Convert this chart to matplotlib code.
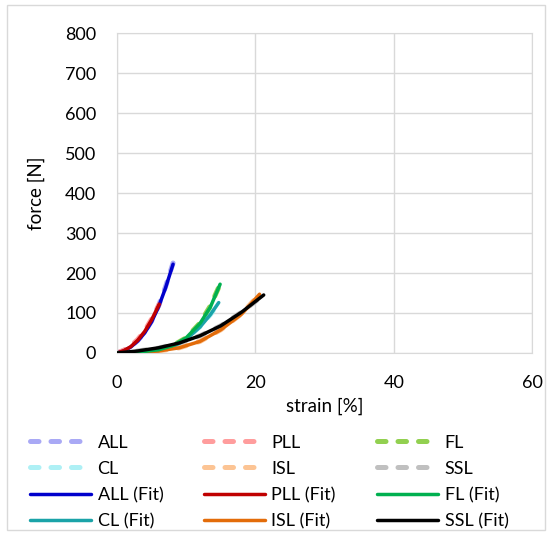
import matplotlib

matplotlib.use("Agg")
import matplotlib.pyplot as plt
from matplotlib.patches import Rectangle

plt.rcParams["font.family"] = ["Lato", "DejaVu Sans"]

# measured curves (strain %, force N)
all_x = [0, 1, 2, 3, 4, 5, 6, 7, 8.1]
all_y = [0, 6, 16, 31, 52, 80, 118, 165, 225]
pll_x = [0, 1, 2, 3, 4, 5, 6.1]
pll_y = [0, 7, 18, 34, 56, 85, 122]
fl_x = [0, 3, 6, 8, 10, 12, 13.5, 14.9]
fl_y = [0, 2, 8, 18, 38, 75, 118, 172]
cl_x = [0, 3, 6, 8, 10, 12, 13.5, 14.7]
cl_y = [0, 1, 6, 15, 35, 66, 96, 126]
isl_x = [0, 3, 6, 9, 12, 15, 18, 20.6]
isl_y = [0, 1, 5, 13, 29, 58, 98, 147]
ssl_x = [0, 3, 6, 9, 12, 15, 18, 21.2]
ssl_y = [0, 5, 12, 25, 43, 68, 102, 145]

# fitted curves
all_fx = [0, 1, 2, 3, 4, 5, 6, 7, 8.1]
all_fy = [0, 5, 15, 30, 50, 78, 115, 162, 222]
pll_fx = [0, 1, 2, 3, 4, 5, 6.1]
pll_fy = [0, 6, 16, 32, 54, 83, 122]
fl_fx = [0, 3, 6, 8, 10, 12, 13.5, 14.9]
fl_fy = [0, 2, 8, 18, 38, 74, 115, 172]
cl_fx = [0, 3, 6, 8, 10, 12, 13.5, 14.7]
cl_fy = [0, 1, 6, 15, 34, 65, 96, 126]
isl_fx = [0, 3, 6, 9, 12, 15, 18, 20.6]
isl_fy = [0, 1, 5, 13, 29, 58, 97, 147]
ssl_fx = [0, 3, 6, 9, 12, 15, 18, 21.2]
ssl_fy = [0, 5, 13, 25, 43, 68, 102, 145]

raw = [
    ("ALL", all_x, all_y, "#a9a9f5"),
    ("CL", cl_x, cl_y, "#aef0f5"),
    ("PLL", pll_x, pll_y, "#ff9d9d"),
    ("ISL", isl_x, isl_y, "#fcc494"),
    ("FL", fl_x, fl_y, "#92d050"),
    ("SSL", ssl_x, ssl_y, "#c0c0c0"),
]
fits = [
    ("ALL (Fit)", all_fx, all_fy, "#0000cc"),
    ("CL (Fit)", cl_fx, cl_fy, "#1aa3a8"),
    ("PLL (Fit)", pll_fx, pll_fy, "#c00000"),
    ("ISL (Fit)", isl_fx, isl_fy, "#e36c0a"),
    ("FL (Fit)", fl_fx, fl_fy, "#00b050"),
    ("SSL (Fit)", ssl_fx, ssl_fy, "#000000"),
]

fig = plt.figure(figsize=(5.52, 5.34), dpi=100)
ax = fig.add_axes([0.212, 0.339, 0.752, 0.599])
fig.patches.append(Rectangle((0.013, 0.008), 0.975, 0.982, transform=fig.transFigure,
                             fill=False, edgecolor="#d9d9d9", linewidth=1))

handles = {}
for name, x, y, c in raw:
    (h,) = ax.plot(x, y, color=c, lw=3.6, ls=(0, (1.7, 2.4)), dash_capstyle="round",
                   solid_capstyle="round", zorder=2)
    handles[name] = h
for name, x, y, c in fits:
    (h,) = ax.plot(x, y, color=c, lw=2.5, solid_capstyle="round", zorder=3)
    handles[name] = h

ax.set_xlim(0, 60)
ax.set_ylim(0, 800)
ax.set_xticks([0, 20, 40, 60])
ax.set_yticks(range(0, 801, 100))
ax.grid(True, color="#d9d9d9", lw=1)
ax.set_axisbelow(True)
for s in ax.spines.values():
    s.set_color("#d9d9d9")
ax.tick_params(axis="y", length=0, labelsize=13, pad=15)
ax.tick_params(axis="x", length=0, labelsize=13, pad=16)
ax.set_xlabel("strain [%]", fontsize=13.5, labelpad=5)
ax.set_ylabel("force [N]", fontsize=13.5, labelpad=14)

columns = [
    ["ALL", "CL", "ALL (Fit)", "CL (Fit)"],
    ["PLL", "ISL", "PLL (Fit)", "ISL (Fit)"],
    ["FL", "SSL", "FL (Fit)", "SSL (Fit)"],
]
col_x = [0.054, 0.369, 0.683]
for cx, keys in zip(col_x, columns):
    fig.legend([handles[k] for k in keys], keys, loc="upper left",
               bbox_to_anchor=(cx, 0.186), frameon=False, fontsize=13,
               handlelength=3.4, handletextpad=0.35, labelspacing=0.56,
               borderaxespad=0, borderpad=0)

fig.savefig("out.png", dpi=100)
